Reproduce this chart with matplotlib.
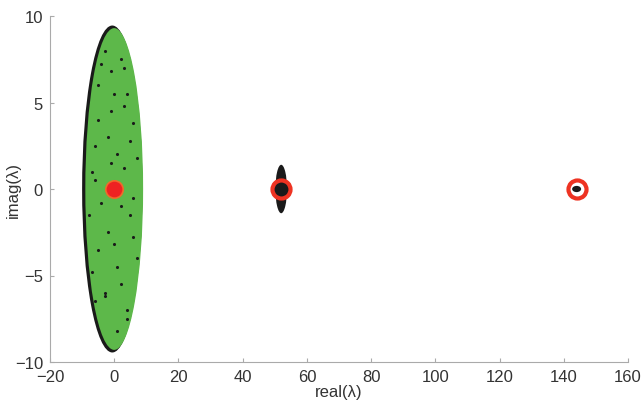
import matplotlib
matplotlib.use("Agg")
import matplotlib.pyplot as plt
from matplotlib.patches import Ellipse

plt.rcParams['font.family'] = ['Liberation Sans', 'DejaVu Sans']

# cluster outlines: (center_real, center_imag, full width, full height)
cloud_black = (-0.6, 0.0, 18.8, 18.9)
cloud_green = (0.0, 0.0, 18.0, 18.6)
cluster2 = (52.0, 0.0, 3.6, 2.8)
cluster3 = (144.0, 0.0, 2.8, 0.36)

# black specks visible inside the green cloud
speck_re = [-3, 2, -5, 4, -1, 6, -6, 1, 3, -4, 5, -2, 0, 7, -7, 2, -3, 4, -5, 1,
            -1, 3, -6, 6, -2, 0, 5, -4, 2, -3, 1, -1, 4, -5, 3, -7, 7, -8, 6, -6]
speck_im = [8, 7.5, 6, 5.5, 4.5, 3.8, 2.5, 2, 1.2, -0.8, -1.5, -2.5, -3.2, -4, -4.8,
            -5.5, -6.2, -7, -3.5, -8.2, 6.8, 4.8, 0.5, -0.5, 3, 5.5, 2.8, 7.2, -1, -6,
            -4.5, 1.5, -7.5, 4, 7, 1, 1.8, -1.5, -2.8, -6.5]

# eigenvalue markers
red_dot = (0.0, 0.0)
ring_re = [52.0, 144.0]
ring_im = [0.0, 0.0]
ring_face = ['#1a1a1a', 'white']

fig = plt.figure(figsize=(6.41, 4.02), dpi=100)
ax = fig.add_axes([50/641, 39/402, 578/641, 346/402])

def ell(spec, color, z):
    cx, cy, w, h = spec
    ax.add_patch(Ellipse((cx, cy), w, h, facecolor=color, edgecolor='none', zorder=z))

ell(cloud_black, '#1a1a1a', 1)
ell(cloud_green, '#5db84a', 2)
ax.scatter(speck_re, speck_im, s=5, color='#1a1a1a', zorder=3, linewidths=0)
ell(cluster2, '#1a1a1a', 1)

ax.plot([red_dot[0]], [red_dot[1]], 'o', markersize=12.5, markerfacecolor='#ee2222',
        markeredgecolor='#f06a2a', markeredgewidth=1.2, zorder=4)
for x, y, fc in zip(ring_re, ring_im, ring_face):
    ax.plot([x], [y], 'o', markersize=13, markerfacecolor=fc,
            markeredgecolor='#ee3322', markeredgewidth=3, zorder=4)
ell(cluster3, '#1a1a1a', 5)

ax.set_xlim(-20, 160)
ax.set_ylim(-10, 10)
ax.set_xticks(range(-20, 161, 20))
ax.set_yticks([-10, -5, 0, 5, 10])
ax.set_xticklabels(['\u221220'] + [str(v) for v in range(0, 161, 20)])
ax.set_yticklabels(['\u221210', '\u22125', '0', '5', '10'])
for s in ['top', 'right']:
    ax.spines[s].set_visible(False)
for s in ['left', 'bottom']:
    ax.spines[s].set_color('#aaaaaa')
ax.tick_params(direction='in', length=3, color='#aaaaaa', labelsize=12,
               labelcolor='#333333', pad=5)
ax.set_xlabel('real(\u03bb)', fontsize=12, color='#333333', labelpad=0)
ax.set_ylabel('imag(\u03bb)', fontsize=12, color='#333333')
ax.yaxis.set_label_coords(-0.05, 0.5)

fig.savefig('out.png', dpi=100)
